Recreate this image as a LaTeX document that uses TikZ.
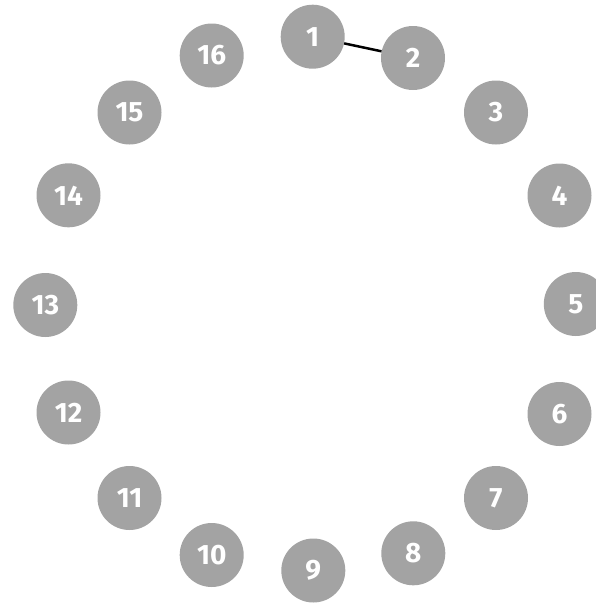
\documentclass[tikz,border=0pt]{standalone}
\usepackage{fontspec}
\setmainfont{Fira Sans}
\definecolor{nodegray}{RGB}{163,163,163}
\begin{document}
\begin{tikzpicture}[x=1pt,y=-1pt,
  vert/.style={circle,fill=nodegray,draw=none,minimum size=64pt,inner sep=0pt,
    text=white,font=\fontsize{28}{28}\selectfont\bfseries},
  link/.style={draw=black,line width=2.5pt}]
\useasboundingbox (0,0) rectangle (596,603);
\node[vert] (n1)  at (312.7,36.7) {1};
\node[vert] (n2)  at (413,58) {2};
\node[vert] (n3)  at (496,112.5) {3};
\node[vert] (n4)  at (559.5,195.5) {4};
\node[vert] (n5)  at (575.8,304) {5};
\node[vert] (n6)  at (559.5,414) {6};
\node[vert] (n7)  at (496,498) {7};
\node[vert] (n8)  at (413.3,553.3) {8};
\node[vert] (n9)  at (313.3,570.5) {9};
\node[vert] (n10) at (211.7,555) {10};
\node[vert] (n11) at (129.5,498) {11};
\node[vert] (n12) at (68.5,412.5) {12};
\node[vert] (n13) at (45.3,305) {13};
\node[vert] (n14) at (68.5,195.3) {14};
\node[vert] (n15) at (129.5,112.5) {15};
\node[vert] (n16) at (211.7,55.5) {16};
\draw[link] (n1) -- (n2);
\end{tikzpicture}
\end{document}
